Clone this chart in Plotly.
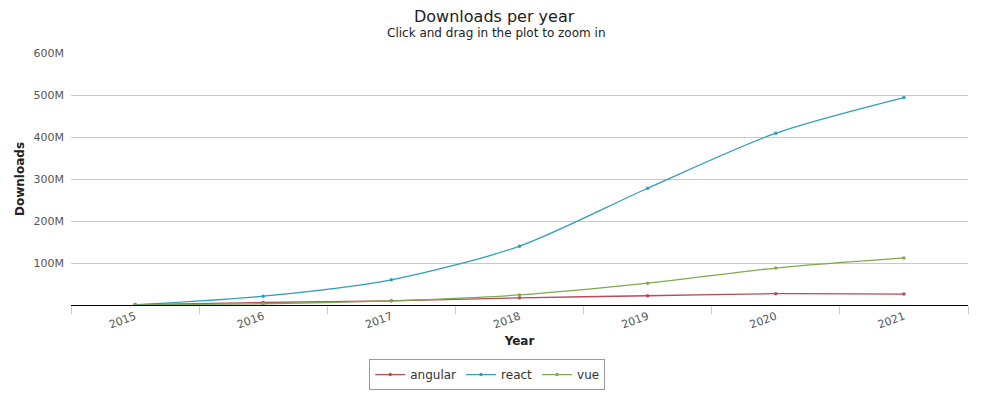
import plotly.graph_objects as go

years = ["2015", "2016", "2017", "2018", "2019", "2020", "2021"]
angular = [1, 6, 10, 17, 22, 27, 26]
react = [0.5, 21, 60, 140, 278, 409, 494]
vue = [0.2, 3, 10, 24, 52, 88, 112]

y_tickvals = [0, 100, 200, 300, 400, 500, 600]
y_ticktext = ["", "100M", "200M", "300M", "400M", "500M", "600M"]

series = [("angular", angular, "#b84a55"), ("react", react, "#2f9fb6"), ("vue", vue, "#7eaa4e")]

fig = go.Figure()
for name, vals, color in series:
    fig.add_trace(go.Scatter(
        x=years, y=vals, name=name, mode="lines+markers",
        line=dict(color=color, width=1.3, shape="spline", smoothing=0.8),
        marker=dict(size=3.5, color=color),
    ))

font = "DejaVu Sans, Lucida Grande, sans-serif"
fig.update_layout(
    width=989, height=399,
    margin=dict(l=63, r=29, t=45, b=102, autoexpand=False),
    paper_bgcolor="white", plot_bgcolor="white",
    font=dict(family=font, color="#333"),
    annotations=[
        dict(text="Downloads per year", xref="paper", yref="paper", x=0.472, y=1.143,
             xanchor="center", yanchor="middle", showarrow=False,
             font=dict(size=16, color="#222")),
        dict(text="Click and drag in the plot to zoom in", xref="paper", yref="paper",
             x=0.474, y=1.079, xanchor="center", yanchor="middle", showarrow=False,
             font=dict(size=12, color="#222")),
    ],
    showlegend=True,
    legend=dict(
        orientation="h", x=0.464, xanchor="center", yref="container", y=0.12, yanchor="top",
        bordercolor="#999", borderwidth=1, font=dict(size=12, color="#333"),
        itemwidth=30, tracegroupgap=0,
    ),
    xaxis=dict(
        type="category", range=[-0.5, 6.5],
        tickangle=-20, tickfont=dict(size=11, color="#555"),
        showline=True, linecolor="black", linewidth=1.2,
        ticks="outside", tickson="boundaries", ticklen=8, tickcolor="#ccc",
        showgrid=False,
        title=dict(text="<b>Year</b>", font=dict(size=12, color="#222"), standoff=6),
    ),
    yaxis=dict(
        range=[0, 600], tickvals=y_tickvals, ticktext=y_ticktext,
        tickfont=dict(size=11, color="#555"),
        showgrid=True, gridcolor="#c8c8c8", gridwidth=1,
        zeroline=False, ticks="", ticklabelstandoff=6,
        title=dict(text="<b>Downloads</b>", font=dict(size=12, color="#222"), standoff=6),
    ),
)

fig.write_html("out.html")
